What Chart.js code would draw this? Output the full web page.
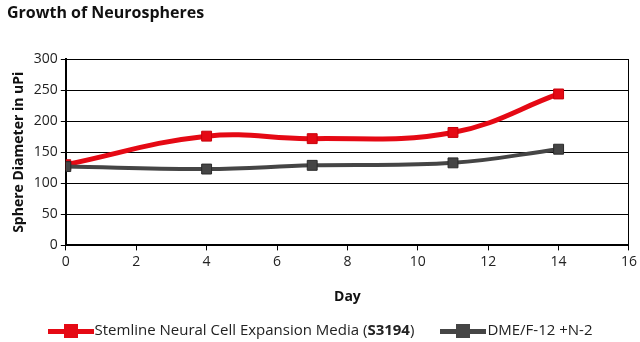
<!DOCTYPE html>
<html>
<head>
<meta charset="utf-8">
<script src="https://cdn.jsdelivr.net/npm/chart.js@4"></script>
<style>
  body { margin: 0; background: #fff; font-family: "Open Sans", sans-serif; }
  #wrap { position: relative; width: 640px; height: 342px; }
  #legenda { position: absolute; left: 0; top: 317px; width: 640px; text-align: center; font-size: 15px; color: #222; white-space: nowrap; }
  .item { display: inline-block; vertical-align: middle; margin: 0 13px; }
  .marca { display: inline-block; position: relative; width: 46px; height: 14px; vertical-align: middle; margin-right: 1px; }
  .marca .linha { position: absolute; left: 0; right: 0; top: 5px; height: 5px; }
  .marca .quad { position: absolute; left: 16px; top: 0; width: 14px; height: 14px; }
</style>
</head>
<body>
<div id="wrap">
  <canvas id="grafico" width="640" height="342"></canvas>
  <div id="legenda"></div>
</div>
<script>
const dias = [0, 4, 7, 11, 14];
const stemline = [130, 176, 172, 182, 244];
const dmeF12 = [127, 123, 129, 133, 155];
const ticksX = [0, 2, 4, 6, 8, 10, 12, 14, 16];

const series = [
  { nome: 'Stemline Neural Cell Expansion Media (<b>S3194</b>)', valores: stemline, cor: '#e50914', borda: '#c8000a', largura: 5, ordem: 1 },
  { nome: 'DME/F-12 +N-2', valores: dmeF12, cor: '#454545', borda: '#2a2a2a', largura: 4, ordem: 0 }
];

function pontos(valores) {
  return dias.map((d, i) => ({ x: d, y: valores[i] }));
}

// legenda em HTML para poder usar negrito no código do produto
const legenda = document.getElementById('legenda');
series.forEach(s => {
  const item = document.createElement('span');
  item.className = 'item';
  item.innerHTML = `<span class="marca"><span class="linha" style="background:${s.cor}"></span>` +
    `<span class="quad" style="background:${s.cor}"></span></span>${s.nome}`;
  legenda.appendChild(item);
});

const fonteTicks = { family: 'Open Sans', size: 14 };
const fonteTitulos = { family: 'Open Sans', size: 14, weight: 'bold' };

const ctx = document.getElementById('grafico').getContext('2d');
const chart = new Chart(ctx, {
  type: 'line',
  data: {
    datasets: series.map(s => ({
      label: s.nome,
      data: pontos(s.valores),
      order: s.ordem,
      borderColor: s.cor,
      backgroundColor: s.cor,
      borderWidth: s.largura,
      tension: 0.4,
      pointStyle: 'rect',
      pointRadius: 7,
      pointHoverRadius: 7,
      pointBackgroundColor: s.cor,
      pointBorderColor: s.borda,
      pointBorderWidth: 1
    }))
  },
  options: {
    responsive: false,
    animation: false,
    layout: { padding: { left: 7, right: 9, top: 0, bottom: 33 } },
    plugins: {
      legend: { display: false },
      tooltip: { enabled: false },
      title: {
        display: true,
        text: 'Growth of Neurospheres',
        align: 'start',
        color: '#111',
        font: { family: 'Open Sans', size: 16, weight: 'bold' },
        padding: { top: 4, bottom: 36 }
      }
    },
    scales: {
      x: {
        type: 'linear',
        min: 0,
        max: 16,
        afterBuildTicks: axis => { axis.ticks = ticksX.map(v => ({ value: v })); },
        grid: {
          color: c => (c.tick && c.tick.value === 16 ? '#000' : 'rgba(0,0,0,0)'),
          tickColor: '#000',
          tickLength: 5
        },
        border: { color: '#000', width: 2 },
        ticks: { color: '#222', font: fonteTicks, padding: 3 },
        title: {
          display: true,
          text: 'Day',
          color: '#111',
          font: fonteTitulos,
          padding: { top: 15 }
        }
      },
      y: {
        min: 0,
        max: 300,
        ticks: { stepSize: 50, color: '#222', font: fonteTicks, padding: 3 },
        grid: { color: '#000', tickColor: '#000', tickLength: 5 },
        border: { color: '#000', width: 2 },
        title: {
          display: true,
          text: 'Sphere Diameter in uPi',
          color: '#111',
          font: fonteTitulos,
          padding: { bottom: 3 }
        }
      }
    }
  }
});
</script>
</body>
</html>
